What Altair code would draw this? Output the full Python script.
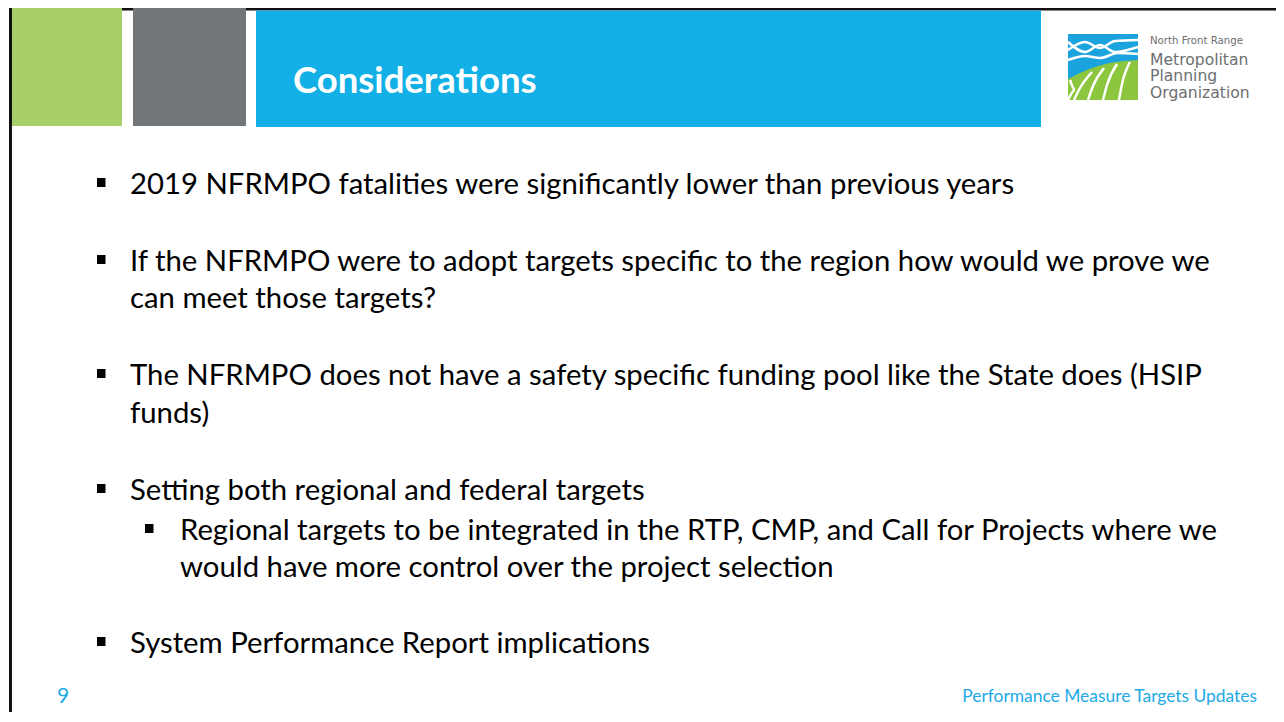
import altair as alt
import pandas as pd

# ---------------- content ----------------
title_text = "Considerations"
body_lines = [
    "2019 NFRMPO fatalities were significantly lower than previous years",
    "If the NFRMPO were to adopt targets specific to the region how would we prove we",
    "can meet those targets?",
    "The NFRMPO does not have a safety specific funding pool like the State does (HSIP",
    "funds)",
    "Setting both regional and federal targets",
    "Regional targets to be integrated in the RTP, CMP, and Call for Projects where we",
    "would have more control over the project selection",
    "System Performance Report implications",
]
body_level = [0, 0, 0, 0, 0, 0, 1, 1, 0]
body_has_bullet = [True, True, False, True, False, True, True, False, True]
page_number = "9"
footer_text = "Performance Measure Targets Updates"
logo_small = "North Front Range"
logo_big = ["Metropolitan", "Planning", "Organization"]

# ---------------- layout (page pixel coordinates) ----------------
W, H = 1268, 704
line_baselines = [194, 271, 308, 385, 422.5, 500, 540, 577, 653]
text_x = {0: 130, 1: 180}
bullet_x = {0: 97, 1: 145}

GREEN = "#A8D06A"
GRAY = "#737679"
BLUE = "#12B0E6"
LOGO_GRAY = "#6D6E70"

xs = alt.Scale(domain=[8, 8 + W], nice=False, zero=False)
ys = alt.Scale(domain=[8 + H, 8], nice=False, zero=False)

def X(f="x"):
    return alt.X(f"{f}:Q", scale=xs, axis=None)

def Y(f="y"):
    return alt.Y(f"{f}:Q", scale=ys, axis=None)

# rectangles: header blocks, border, bullets, logo
rects = [
    dict(x=9, x2=1284, y=7, y2=10.5, c="#111111"),
    dict(x=9, x2=12, y=7, y2=722, c="#111111"),
    dict(x=12, x2=122, y=7, y2=126, c=GREEN),
    dict(x=133, x2=246, y=7, y2=126, c=GRAY),
    dict(x=256, x2=1041, y=10.5, y2=127, c=BLUE),
    dict(x=1068, x2=1138, y=34, y2=100, c="#1AA3DC"),
]
for lvl, has_b, base in zip(body_level, body_has_bullet, line_baselines):
    if has_b:
        bx = bullet_x[lvl]
        rects.append(dict(x=bx, x2=bx + 8.5, y=base - 16, y2=base - 7, c="#000000"))
rect_df = pd.DataFrame(rects)

rect_layer = alt.Chart(rect_df).mark_rect().encode(
    x=X("x"), x2="x2:Q", y=Y("y"), y2="y2:Q",
    color=alt.Color("c:N", scale=None),
)

# logo green field
green_top_x = [1068, 1080, 1095, 1110, 1125, 1138]
green_top_y = [79, 73, 67, 63, 61, 60]
green_df = pd.DataFrame({"x": green_top_x, "y": green_top_y, "y2": [100] * len(green_top_x)})
green_layer = alt.Chart(green_df).mark_area(color="#8CC63F", interpolate="monotone").encode(
    x=X("x"), y=Y("y"), y2="y2:Q"
)

# logo white strokes (waves in blue, furrows in green)
strokes = []
wave_sets = [
    ("w1", [1068, 1085, 1100, 1115, 1138], [50, 42, 48, 41, 40]),
    ("w2", [1068, 1085, 1100, 1115, 1138], [42, 52, 45, 52, 47]),
    ("w3", [1068, 1085, 1100, 1118, 1138], [60, 56, 58, 53, 54]),
    ("f1", [1074, 1080, 1092], [100, 88, 72]),
    ("f2", [1088, 1093, 1104], [100, 86, 68]),
    ("f3", [1103, 1107, 1117], [100, 85, 64]),
    ("f4", [1119, 1122, 1130], [100, 84, 62]),
    ("c1", [1068, 1075, 1070], [100, 90, 80]),
]
for name, px, py in wave_sets:
    for i, (a, b) in enumerate(zip(px, py)):
        strokes.append(dict(s=name, o=i, x=a, y=b))
stroke_df = pd.DataFrame(strokes)
stroke_layer = alt.Chart(stroke_df).mark_line(
    color="white", strokeWidth=2.5, interpolate="monotone"
).encode(x=X("x"), y=Y("y"), detail="s:N", order="o:Q")

# title
title_layer = alt.Chart(pd.DataFrame({"t": [title_text], "x": [293], "y": [93]})).mark_text(
    align="left", baseline="alphabetic", font="Lato", fontWeight="bold", fontSize=36.5, color="white"
).encode(x=X("x"), y=Y("y"), text="t:N")

# body text
body_df = pd.DataFrame({
    "t": body_lines,
    "x": [text_x[l] for l in body_level],
    "y": line_baselines,
})
body_layer = alt.Chart(body_df).mark_text(
    align="left", baseline="alphabetic", font="Lato", fontSize=29.3, color="#000000"
).encode(x=X("x"), y=Y("y"), text="t:N")

# footer
pn_layer = alt.Chart(pd.DataFrame({"t": [page_number], "x": [57], "y": [703]})).mark_text(
    align="left", baseline="alphabetic", font="Lato", fontSize=21, color="#1CA9E6"
).encode(x=X("x"), y=Y("y"), text="t:N")
foot_layer = alt.Chart(pd.DataFrame({"t": [footer_text], "x": [1257], "y": [702]})).mark_text(
    align="right", baseline="alphabetic", font="Lato", fontSize=17.4, color="#1CA9E6"
).encode(x=X("x"), y=Y("y"), text="t:N")

# logo text
logo_small_layer = alt.Chart(pd.DataFrame({"t": [logo_small], "x": [1150], "y": [43.5]})).mark_text(
    align="left", baseline="alphabetic", font="DejaVu Sans", fontSize=10.2, color=LOGO_GRAY
).encode(x=X("x"), y=Y("y"), text="t:N")
logo_big_layer = alt.Chart(pd.DataFrame({"t": logo_big, "x": [1150] * 3, "y": [64.5, 81, 97.5]})).mark_text(
    align="left", baseline="alphabetic", font="DejaVu Sans", fontSize=15.6, color=LOGO_GRAY
).encode(x=X("x"), y=Y("y"), text="t:N")

chart = alt.layer(
    rect_layer, green_layer, stroke_layer, title_layer, body_layer,
    pn_layer, foot_layer, logo_small_layer, logo_big_layer,
).properties(
    width=W, height=H, background="white", padding=0,
    autosize=alt.AutoSizeParams(type="none"),
).configure_view(stroke=None)

chart.save("out.html", embed_options={"renderer": "svg", "actions": False})
